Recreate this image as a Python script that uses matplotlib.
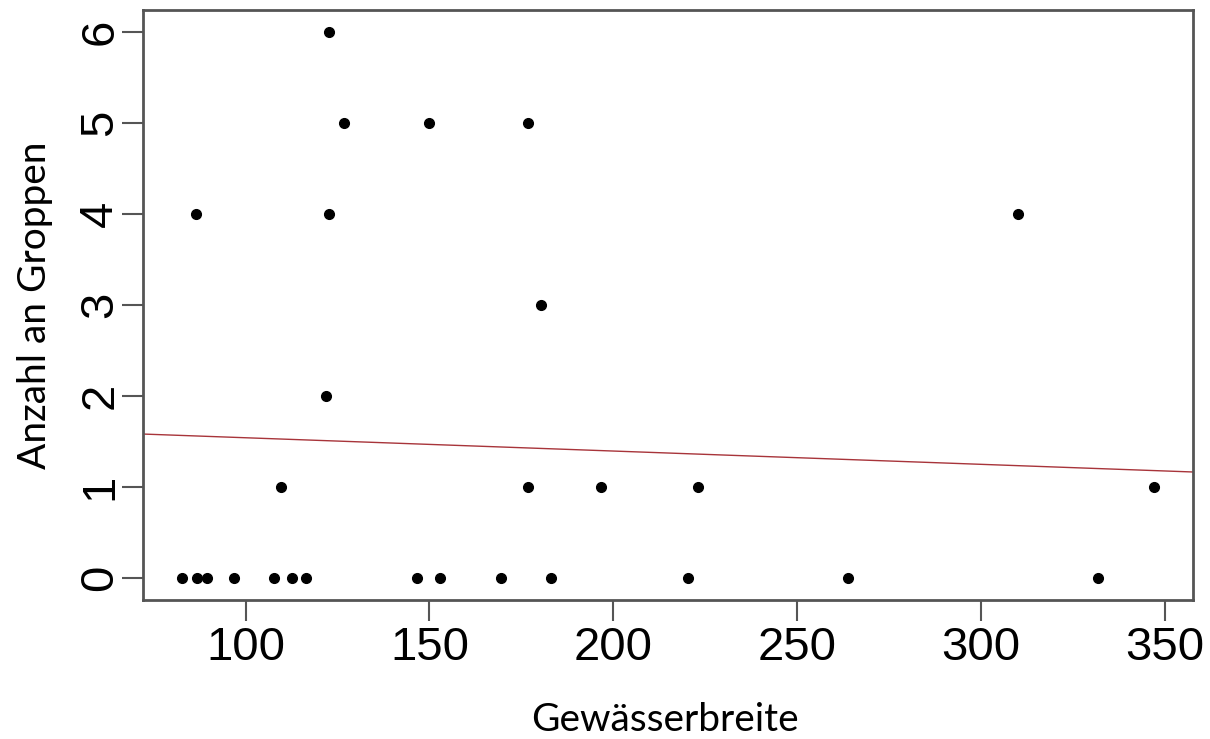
import numpy as np
import matplotlib
matplotlib.use("Agg")
import matplotlib.pyplot as plt

# Gewässerbreite vs. Anzahl an Groppen
breite = [82.7, 86.7, 89.6, 96.8, 107.7, 112.7, 116.5, 146.5, 152.8, 169.5,
          183.0, 220.4, 263.9, 331.8,
          109.7, 176.9, 196.6, 222.9, 347.0,
          121.8,
          180.3,
          86.6, 122.6, 310.0,
          126.9, 149.8, 176.7,
          122.6]
groppen = [0, 0, 0, 0, 0, 0, 0, 0, 0, 0,
           0, 0, 0, 0,
           1, 1, 1, 1, 1,
           2,
           3,
           4, 4, 4,
           5, 5, 5,
           6]

# fitted line
fit_intercept = 1.688
fit_slope = -0.00146

xticks = [100, 150, 200, 250, 300, 350]
yticks = [0, 1, 2, 3, 4, 5, 6]

fig = plt.figure(figsize=(12.1, 7.39), dpi=100)
ax = fig.add_axes([143 / 1210, 1 - 600 / 739, 1050 / 1210, 590 / 739])

ax.plot(breite, groppen, 'o', color='black', ms=7, mec='black')

# R-style 4% axis extension
x = np.array(breite)
xr = x.max() - x.min()
xlim = (x.min() - 0.04 * xr, x.max() + 0.04 * xr)
ax.set_xlim(xlim)
ax.set_ylim(-0.24, 6.24)

xx = np.array(xlim)
ax.plot(xx, fit_intercept + fit_slope * xx, color='#a8343a', lw=1.0)

for s in ax.spines.values():
    s.set_color('#555555')
    s.set_linewidth(2)

ax.set_xticks(xticks)
ax.set_yticks(yticks)
ax.tick_params(axis='both', length=15, width=1.5, color='#555555',
               labelsize=34)
ax.tick_params(axis='x', pad=4)
ax.tick_params(axis='y', pad=0)
for lab in ax.get_xticklabels() + ax.get_yticklabels():
    lab.set_family('Liberation Sans')
for lab in ax.get_yticklabels():
    lab.set_rotation(90)
    lab.set_va('center')

fig.text(665 / 1210, 1 - 720 / 739, 'Gewässerbreite', family='Lato',
         fontsize=28, ha='center', va='center')
fig.text(35 / 1210, 1 - 305 / 739, 'Anzahl an Groppen', family='Lato',
         fontsize=28, ha='center', va='center', rotation=90)

fig.savefig('out.png', dpi=100)
